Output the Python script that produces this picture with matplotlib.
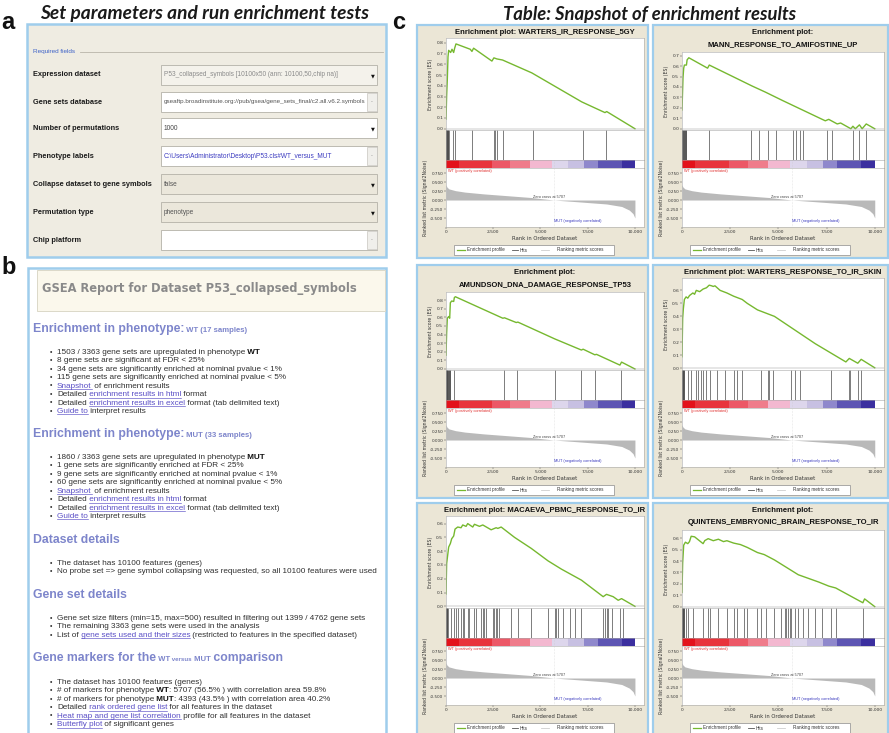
import matplotlib
matplotlib.use("Agg")
import matplotlib.pyplot as plt
import numpy as np
from matplotlib.patches import Rectangle
from matplotlib.font_manager import FontProperties

W, H = 889, 733

# ---------------- panel a: GSEA run parameters ----------------
form_labels = ["Expression dataset", "Gene sets database", "Number of permutations",
               "Phenotype labels", "Collapse dataset to gene symbols",
               "Permutation type", "Chip platform"]
form_values = ["P53_collapsed_symbols [10100x50 (ann: 10100,50,chip na)]",
               "gseaftp.broadinstitute.org://pub/gsea/gene_sets_final/c2.all.v6.2.symbols",
               "1000",
               r"C:\Users\Administrator\Desktop\P53.cls#WT_versus_MUT",
               "false", "phenotype", ""]
form_widgets = ["menu", "chooser", "menu", "chooser", "menu", "menu", "chooser"]

# ---------------- panel b: report text ----------------
report_title = "GSEA Report for Dataset P53_collapsed_symbols"
wt_header = [("Enrichment in phenotype:", "h"), (" WT (17 samples)", "hs")]
wt_items = [
    [("1503 / 3363 gene sets are upregulated in phenotype", "n"), (" WT", "b")],
    [("8 gene sets are significant at FDR < 25%", "n")],
    [("34 gene sets are significantly enriched at nominal pvalue < 1%", "n")],
    [("115 gene sets are significantly enriched at nominal pvalue < 5%", "n")],
    [("Snapshot", "l"), (" of enrichment results", "n")],
    [("Detailed", "n"), (" enrichment results in html", "l"), (" format", "n")],
    [("Detailed", "n"), (" enrichment results in excel", "l"), (" format (tab delimited text)", "n")],
    [("Guide to", "l"), (" interpret results", "n")],
]
mut_header = [("Enrichment in phenotype:", "h"), (" MUT (33 samples)", "hs")]
mut_items = [
    [("1860 / 3363 gene sets are upregulated in phenotype", "n"), (" MUT", "b")],
    [("1 gene sets are significantly enriched at FDR < 25%", "n")],
    [("9 gene sets are significantly enriched at nominal pvalue < 1%", "n")],
    [("60 gene sets are significantly enriched at nominal pvalue < 5%", "n")],
    [("Snapshot", "l"), (" of enrichment results", "n")],
    [("Detailed", "n"), (" enrichment results in html", "l"), (" format", "n")],
    [("Detailed", "n"), (" enrichment results in excel", "l"), (" format (tab delimited text)", "n")],
    [("Guide to", "l"), (" interpret results", "n")],
]
dataset_header = [("Dataset details", "h")]
dataset_items = [
    [("The dataset has 10100 features (genes)", "n")],
    [("No probe set => gene symbol collapsing was requested, so all 10100 features were used", "n")],
]
geneset_header = [("Gene set details", "h")]
geneset_items = [
    [("Gene set size filters (min=15, max=500) resulted in filtering out 1399 / 4762 gene sets", "n")],
    [("The remaining 3363 gene sets were used in the analysis", "n")],
    [("List of", "n"), (" gene sets used and their sizes", "l"),
     (" (restricted to features in the specified dataset)", "n")],
]
markers_header = [("Gene markers for the", "h"), (" WT", "hs"), (" versus", "hx"),
                  (" MUT", "hs"), (" comparison", "h")]
markers_items = [
    [("The dataset has 10100 features (genes)", "n")],
    [("# of markers for phenotype", "n"), (" WT", "b"), (": 5707 (56.5% ) with correlation area 59.8%", "n")],
    [("# of markers for phenotype", "n"), (" MUT", "b"), (": 4393 (43.5% ) with correlation area 40.2%", "n")],
    [("Detailed", "n"), (" rank ordered gene list", "l"), (" for all features in the dataset", "n")],
    [("Heat map and gene list correlation", "l"), (" profile for all features in the dataset", "n")],
    [("Butterfly plot", "l"), (" of significant genes", "n")],
]

# ---------------- panel c: enrichment plots ----------------
gene_set_titles = [
    "Enrichment plot: WARTERS_IR_RESPONSE_5GY",
    "Enrichment plot:\nMANN_RESPONSE_TO_AMIFOSTINE_UP",
    "Enrichment plot:\nAMUNDSON_DNA_DAMAGE_RESPONSE_TP53",
    "Enrichment plot: WARTERS_RESPONSE_TO_IR_SKIN",
    "Enrichment plot: MACAEVA_PBMC_RESPONSE_TO_IR",
    "Enrichment plot:\nQUINTENS_EMBRYONIC_BRAIN_RESPONSE_TO_IR",
]

es_rank_1 = [0, 35, 70, 106, 141, 246, 317, 405, 458, 528, 1285, 1373, 1461, 2430, 2535,
             2694, 2993, 4542, 7183, 8415, 8504, 10000]
es_1 = [0.09, 0.31, 0.46, 0.67, 0.73, 0.71, 0.74, 0.71, 0.75, 0.79, 0.74, 0.72, 0.75, 0.63,
        0.66, 0.65, 0.64, 0.52, 0.25, 0.15, 0.16, 0.0]
hits_1 = [5, 15, 25, 40, 55, 70, 85, 100, 120, 135, 352, 458, 1373, 2518, 2570, 2694, 2993,
          4630, 7271, 8451]

es_rank_2 = [0, 53, 88, 124, 230, 265, 354, 1327, 1416, 3628, 4336, 5221, 7434, 7611, 8053,
             8230, 8761, 8867, 8991, 9204, 9346, 9558, 10000]
es_2 = [0.18, 0.49, 0.58, 0.61, 0.61, 0.66, 0.68, 0.58, 0.61, 0.41, 0.35, 0.27, 0.076, 0.09,
        0.046, 0.055, 0.0, 0.024, 0.0, 0.037, 0.0, 0.046, 0.0]
hits_2 = [10, 25, 40, 60, 80, 100, 130, 160, 200, 230, 1416, 3593, 3982, 4478, 4867, 5752,
          5929, 6106, 6283, 7522, 7788, 8850, 9204, 9558]

es_rank_3 = [0, 35, 71, 142, 195, 230, 301, 407, 442, 496, 3009, 3097, 3717, 3805, 5752, 7168,
             7257, 7876, 7965, 9204, 9292, 10000]
es_3 = [0.16, 0.42, 0.59, 0.61, 0.59, 0.77, 0.79, 0.785, 0.83, 0.84, 0.59, 0.595, 0.54, 0.545,
        0.35, 0.22, 0.23, 0.165, 0.17, 0.045, 0.08, 0.0]
hits_3 = [5, 15, 30, 45, 60, 75, 95, 115, 140, 170, 200, 230, 442, 3062, 3770, 5788, 7168,
          7912, 9257]

es_rank_4 = [0, 35, 71, 123, 212, 300, 388, 564, 653, 741, 917, 1094, 1270, 1411, 1535, 1623,
             1711, 1976, 2328, 2681, 3122, 3387, 3916, 4445, 4798, 6915, 8502, 8679, 9120,
             9296, 10000]
es_4 = [0.09, 0.385, 0.46, 0.53, 0.55, 0.54, 0.56, 0.58, 0.57, 0.60, 0.59, 0.61, 0.62, 0.64,
        0.635, 0.63, 0.635, 0.60, 0.58, 0.555, 0.53, 0.50, 0.45, 0.42, 0.40, 0.19, 0.05, 0.077,
        0.04, 0.07, 0.005]
hits_4 = [5, 20, 35, 50, 70, 90, 110, 300, 476, 741, 829, 1005, 1093, 1270, 1446, 1799, 2240,
          2681, 2857, 3122, 4092, 4444, 4533, 4709, 5679, 5855, 6120, 7707, 8642, 8730, 9118,
          9295]

es_rank_5 = [0, 35, 88, 142, 230, 301, 407, 478, 620, 797, 885, 1062, 1150, 1416, 1505, 1770,
             1947, 2390, 2655, 2743, 2920, 3628, 4514, 5398, 6107, 7168, 8319, 8496, 8850,
             9115, 9292, 10000]
es_5 = [0.09, 0.31, 0.37, 0.43, 0.455, 0.49, 0.51, 0.56, 0.575, 0.57, 0.59, 0.58, 0.60, 0.575,
        0.595, 0.58, 0.59, 0.555, 0.57, 0.565, 0.575, 0.50, 0.42, 0.33, 0.27, 0.19, 0.07,
        0.087, 0.07, 0.044, 0.056, 0.0]
hits_5 = [5, 20, 35, 50, 70, 88, 266, 442, 531, 620, 797, 885, 974, 1150, 1239, 1505, 1593,
          1859, 1947, 2036, 2124, 2478, 2567, 2655, 2708, 2779, 3452, 3806, 4514, 5398, 5752,
          5841, 5930, 6195, 6549, 6815, 7169, 8319, 8408, 8496, 8585, 8762, 9204, 9381]

es_rank_6 = [0, 35, 88, 176, 300, 388, 476, 653, 1094, 1182, 1358, 1623, 1888, 2152, 2328,
             2681, 3034, 3387, 3916, 4269, 4798, 6033, 7091, 7620, 7973, 9384, 9473, 10000]
es_6 = [0.125, 0.385, 0.54, 0.566, 0.553, 0.571, 0.618, 0.613, 0.553, 0.58, 0.597, 0.579,
        0.592, 0.571, 0.579, 0.558, 0.545, 0.52, 0.475, 0.457, 0.41, 0.28, 0.216, 0.18,
        0.164, 0.034, 0.068, 0.0]
hits_6 = [5, 20, 35, 55, 75, 95, 120, 212, 300, 564, 1094, 1358, 1446, 1888, 2328, 2681, 2857,
          3210, 3387, 3916, 4093, 4357, 4798, 5151, 5327, 5416, 5504, 5592, 5680, 5857, 6033,
          6298, 6562, 6915, 7268, 7709, 7973, 9384]

# ranked list metric (Signal2Noise), shared by all gene sets
metric_rank = [0, 50, 150, 500, 1000, 2000, 3000, 4500, 5707, 7000, 8500, 9300, 9700, 9900, 10000]
metric_value = [0.42, 0.36, 0.31, 0.26, 0.22, 0.17, 0.13, 0.07, 0.0, -0.05, -0.11, -0.18,
                -0.28, -0.38, -0.5]
zero_cross = 5707

# phenotype colour band along the ranked list
band_edges = [0, 670, 2430, 3400, 4450, 5600, 6480, 7320, 8060, 9300, 10000]
band_colors = ['#e3121b', '#e8343c', '#ec5867', '#ef7c8b', '#f3b8d0', '#ddd6ec', '#c7c0e2',
               '#8f88cc', '#5d55b3', '#3b2f9f']

rank_ticks = [0, 2500, 5000, 7500, 10000]
rank_tick_labels = ["0", "2,500", "5,000", "7,500", "10,000"]
metric_ticks = [0.75, 0.5, 0.25, 0.0, -0.25, -0.5]
metric_tick_labels = ["0.750", "0.500", "0.250", "0.000", "-0.250", "-0.500"]

# ---------------- styling ----------------
SANS = ['Liberation Sans', 'DejaVu Sans']
NARROW = ['Liberation Sans Narrow', 'Liberation Sans', 'DejaVu Sans']
WIDE = ['DejaVu Sans']
HEAD = ['Lato', 'Open Sans', 'DejaVu Sans']
BLUE_BORDER = '#9fcdec'
FORM_BG = '#efece2'
PANEL_C_BG = '#ebe6d6'
HEADER_BLUE = '#7d85cb'
LINK = '#5a4fc6'
ES_GREEN = '#76b82f'

fig = plt.figure(figsize=(W / 100, H / 100), dpi=100)
fig.patch.set_facecolor('white')
bg = fig.add_axes([0, 0, 1, 1])
bg.set_xlim(0, W)
bg.set_ylim(H, 0)
bg.axis('off')
renderer = fig.canvas.get_renderer()


def text_width(s, size, weight='normal', family=SANS):
    fp = FontProperties(family=family, size=size, weight=weight)
    return renderer.get_text_width_height_descent(s, fp, ismath=False)[0]


RUN_STYLE = {
    'n': dict(size=5.85, weight='normal', color='#303030'),
    'b': dict(size=5.85, weight='bold', color='#111111'),
    'l': dict(size=5.85, weight='normal', color=LINK, underline=True),
    'h': dict(size=8.8, weight='bold', color=HEADER_BLUE),
    'hs': dict(size=5.6, weight='bold', color=HEADER_BLUE),
    'hx': dict(size=4.4, weight='bold', color=HEADER_BLUE),
}


def draw_runs(x, y, runs):
    for s, kind in runs:
        st = RUN_STYLE[kind]
        bg.text(x, y, s, fontsize=st['size'], fontweight=st['weight'], color=st['color'],
                family=SANS, ha='left', va='baseline')
        w = text_width(s, st['size'], st['weight'])
        if st.get('underline'):
            lead = w - text_width(s.lstrip(), st['size'], st['weight'])
            bg.plot([x + lead, x + w], [y + 1.3, y + 1.3], color=st['color'], lw=0.45)
        x += w


# ---------------- panel letters and headings ----------------
for letter, lx, ly in [("a", 1, 29), ("b", 1, 274), ("c", 392, 29)]:
    bg.text(lx, ly, letter, fontsize=17, fontweight='bold', family=SANS, ha='left',
            va='baseline', color='#111111')
bg.text(205, 19, "Set parameters and run enrichment tests", fontsize=13.8, fontweight='bold',
        style='italic', family=HEAD, ha='center', va='baseline', color='#1a1a1a')
bg.text(650, 20, "Table: Snapshot of enrichment results", fontsize=13.3, fontweight='bold',
        style='italic', family=HEAD, ha='center', va='baseline', color='#1a1a1a')

# ---------------- panel a ----------------
bg.add_patch(Rectangle((27, 24), 359, 233, fc=FORM_BG, ec=BLUE_BORDER, lw=1.8))
bg.text(33, 52, "Required fields", fontsize=4.6, family=NARROW, color='#3f63c8',
        ha='left', va='center')
bg.plot([80, 383], [52, 52], color='#b9b5a9', lw=0.6)
row_y = [75, 102, 128, 156, 184, 212, 240]
value_colors = ['#8a8a8a', '#555555', '#444444', '#3b3bc0', '#555555', '#555555', '#555555']
for i, (lab, val, kind) in enumerate(zip(form_labels, form_values, form_widgets)):
    y = row_y[i]
    lw_ = text_width(lab, 5.3, 'bold', NARROW)
    size = 5.3 if lw_ < 124 else 5.3 * 124 / lw_
    bg.text(33, y, lab, fontsize=size, fontweight='bold', family=NARROW, color='#1b1b1b',
            ha='left', va='center')
    fill = '#f4f2eb' if i == 0 else ('#ebe7db' if i in (4, 5) else '#ffffff')
    bg.add_patch(Rectangle((161, y - 10), 216, 20, fc=fill, ec='#b4b1a8', lw=0.6))
    vw = text_width(val, 4.7, 'normal', NARROW) if val else 0
    vsize = 4.7 if vw < 199 else 4.7 * 199 / vw
    clip = Rectangle((162, y - 9), 203, 18, transform=bg.transData)
    t = bg.text(164, y, val, fontsize=vsize, family=NARROW, color=value_colors[i],
                ha='left', va='center', clip_on=True)
    t.set_clip_path(clip)
    if kind == "menu":
        bg.text(373, y + 0.5, "\u25bc", fontsize=3.6, family=['DejaVu Sans'], color='#111111',
                ha='center', va='center')
    else:
        bg.add_patch(Rectangle((367, y - 9), 9.5, 18, fc='#f0efeb', ec='#c8c6c0', lw=0.5))
        bg.text(371.8, y, "-", fontsize=4, family=SANS, color='#888888', ha='center',
                va='center')

# ---------------- panel b ----------------
bg.add_patch(Rectangle((28, 268), 358, 480, fc='white', ec=BLUE_BORDER, lw=1.8))
bg.add_patch(Rectangle((37, 270), 348, 41, fc='#fbf8ec', ec='#dcd8c8', lw=0.7))
bg.text(42, 292, report_title, fontsize=8.3, fontweight='bold', family=WIDE, color='#8a8a8a',
        ha='left', va='baseline')

sections = [(wt_header, 332, wt_items, 354),
            (mut_header, 437, mut_items, 459),
            (dataset_header, 543, dataset_items, 565),
            (geneset_header, 598, geneset_items, 620),
            (markers_header, 661, markers_items, 684)]
for header, hy, items, iy in sections:
    draw_runs(33, hy, header)
    for k, runs in enumerate(items):
        y = iy + 8.45 * k
        bg.text(51, y - 0.3, "\u2022", fontsize=5, family=SANS, color='#333333',
                ha='center', va='baseline')
        draw_runs(57, y, runs)


# ---------------- panel c ----------------
def px_axes(x0, y0, x1, y1):
    ax = fig.add_axes([x0 / W, 1 - y1 / H, (x1 - x0) / W, (y1 - y0) / H])
    ax.set_facecolor('white')
    for sp in ax.spines.values():
        sp.set_color('#a8a8a8')
        sp.set_linewidth(0.4)
    ax.tick_params(length=1.2, width=0.3, labelsize=3.2, pad=0.8, colors='#333333')
    ax.set_xlim(0, 10480)
    return ax


def enrichment_panel(x0, y0, x1, y1, title, es_rank, es_val, hits):
    bg.add_patch(Rectangle((x0, y0), x1 - x0, y1 - y0, fc=PANEL_C_BG, ec=BLUE_BORDER, lw=1.6))
    L, R = x0 + 29, x1 - 4
    lines = title.split("\n")
    for i, ln in enumerate(lines):
        bg.text((L + R) / 2, y0 + 8 + 12 * i, ln, fontsize=5.5, fontweight='bold',
                family=SANS, color='#111111', ha='center', va='center')
    es_top = y0 + (13 if len(lines) == 1 else 27)

    ax_es = px_axes(L, es_top, R, y0 + 105)
    ax_es.plot(es_rank, es_val, color=ES_GREEN, lw=1.0, solid_joinstyle='round')
    ax_es.axhline(0, color='#9a9a9a', lw=0.35)
    top = max(es_val) + 0.055
    ax_es.set_ylim(-0.012, top)
    yt = np.round(np.arange(0, top - 0.03, 0.1), 1)
    ax_es.set_yticks(yt)
    ax_es.set_yticklabels([f"{v:.1f}" for v in yt])
    ax_es.set_xticks([])
    ax_es.set_ylabel("Enrichment score (ES)", fontsize=3.3, labelpad=2, color='#333333')

    ax_hit = px_axes(L, y0 + 105, R, y0 + 135)
    ax_hit.vlines(hits, 0, 1, color='#4a4a4a', lw=0.5)
    ax_hit.set_ylim(0, 1)
    ax_hit.set_xticks([])
    ax_hit.set_yticks([])

    ax_cb = px_axes(L, y0 + 135, R, y0 + 143)
    for a, b, c in zip(band_edges[:-1], band_edges[1:], band_colors):
        ax_cb.axvspan(a, b, color=c, lw=0)
    ax_cb.axvline(zero_cross, color='#cccccc', lw=0.4, ls=':')
    ax_cb.set_xticks([])
    ax_cb.set_yticks([])

    ax_rk = px_axes(L, y0 + 143, R, y0 + 202)
    ax_rk.fill_between(metric_rank, metric_value, 0, color='#b9b9b9', lw=0)
    ax_rk.axvline(zero_cross, color='#d0d0d0', lw=0.4, ls=':')
    ax_rk.set_ylim(-0.75, 0.89)
    ax_rk.set_yticks(metric_ticks)
    ax_rk.set_yticklabels(metric_tick_labels, fontsize=3.0)
    ax_rk.set_xticks(rank_ticks)
    ax_rk.set_xticklabels(rank_tick_labels)
    ax_rk.set_xlabel("Rank in Ordered Dataset", fontsize=3.8, labelpad=1.5, color='#333333')
    ax_rk.set_ylabel("Ranked list metric (Signal2Noise)", fontsize=3.3, labelpad=1.5,
                     color='#333333')
    ax_rk.text(80, 0.86, "WT (positively correlated)", fontsize=2.8, color='#e0302f',
               ha='left', va='top', family=SANS)
    ax_rk.text(zero_cross - 250, 0.03, "Zero cross at %d" % zero_cross, fontsize=2.8,
               color='#444444', ha='center', va='bottom', family=SANS)
    ax_rk.text(6950, -0.57, "MUT (negatively correlated)", fontsize=2.8, color='#3b3bbf',
               ha='center', va='center', family=SANS)

    # legend strip
    ly = y0 + 225
    bg.add_patch(Rectangle((x0 + 37, y0 + 220), 160, 10, fc='white', ec='#8c8c8c', lw=0.5))
    bg.plot([x0 + 40, x0 + 48], [ly, ly], color=ES_GREEN, lw=0.9)
    bg.text(x0 + 50, ly, "Enrichment profile", fontsize=3.3, family=SANS, color='#333333',
            ha='left', va='center')
    bg.plot([x0 + 95, x0 + 101], [ly, ly], color='#555555', lw=0.6)
    bg.text(x0 + 103, ly, "Hits", fontsize=3.3, family=SANS, color='#333333',
            ha='left', va='center')
    bg.plot([x0 + 124, x0 + 132], [ly, ly], color='#cfcfcf', lw=0.6)
    bg.text(x0 + 140, ly, "Ranking metric scores", fontsize=3.3, family=SANS,
            color='#333333', ha='left', va='center')


cols = [(417, 648), (653, 888)]
rows = [(25, 258), (265, 498), (503, 745)]
panels = [(es_rank_1, es_1, hits_1), (es_rank_2, es_2, hits_2),
          (es_rank_3, es_3, hits_3), (es_rank_4, es_4, hits_4),
          (es_rank_5, es_5, hits_5), (es_rank_6, es_6, hits_6)]
for idx, (title, (er, ev, hh)) in enumerate(zip(gene_set_titles, panels)):
    r, c = divmod(idx, 2)
    enrichment_panel(cols[c][0], rows[r][0], cols[c][1], rows[r][1], title, er, ev, hh)

fig.savefig("out.png", dpi=100, facecolor='white')
